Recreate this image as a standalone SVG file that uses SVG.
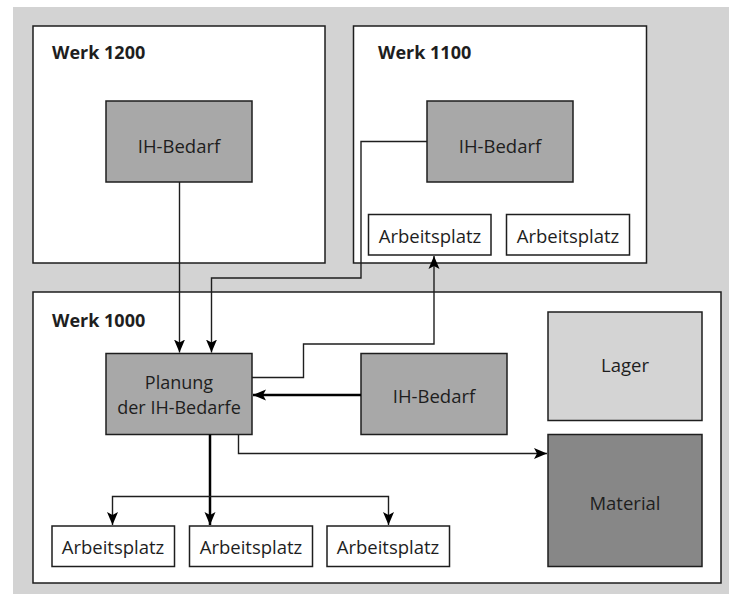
<svg xmlns="http://www.w3.org/2000/svg" width="729" height="594" viewBox="0 0 729 594">
<defs>
<style>
.box{stroke:#1e1e1e;stroke-width:1.5}
.werk{fill:#fff}
.ih{fill:#a8a8a8}
.ap{fill:#fff}
.lager{fill:#d4d4d4}
.mat{fill:#878787}
text{font-family:"Open Sans","Noto Sans","Liberation Sans",sans-serif;font-size:18.5px;fill:#1e1e1e;text-anchor:middle}
.title{font-weight:bold;text-anchor:start;font-size:18px}
.two{font-size:18px}
.c{fill:none;stroke:#1e1e1e;stroke-width:1.4}
.t{fill:none;stroke:#000;stroke-width:2.5}
</style>
<marker id="arr" markerUnits="userSpaceOnUse" markerWidth="14" markerHeight="14" viewBox="0 0 14 14" refX="13" refY="7" orient="auto">
<path d="M0,1.5 L13,7 L0,12.5 L3,7 z" fill="#000"/>
</marker>
</defs>
<rect x="13" y="7" width="716" height="587" fill="#d3d3d3"/>
<g id="werk1200">
<rect class="box werk" x="33" y="26" width="292" height="237"/>
<text class="title" x="52" y="59">Werk 1200</text>
</g>
<g id="werk1100">
<rect class="box werk" x="353.5" y="26" width="293" height="237"/>
<text class="title" x="378" y="59">Werk 1100</text>
</g>
<g id="werk1000">
<rect class="box werk" x="33" y="292" width="688" height="291"/>
<text class="title" x="52" y="327">Werk 1000</text>
</g>
<g id="ih1200">
<rect class="box ih" x="106" y="101" width="146" height="81"/>
<text x="179" y="152.5">IH-Bedarf</text>
</g>
<g id="ih1100">
<rect class="box ih" x="427" y="101" width="146" height="81"/>
<text x="500" y="152.5">IH-Bedarf</text>
</g>
<g id="ap1100a">
<rect class="box ap" x="368.5" y="214.5" width="122.5" height="40.5"/>
<text x="430" y="242.5">Arbeitsplatz</text>
</g>
<g id="ap1100b">
<rect class="box ap" x="506.5" y="214.5" width="123" height="40.5"/>
<text x="568" y="242.5">Arbeitsplatz</text>
</g>
<g id="planung">
<rect class="box ih" x="106" y="353.5" width="146" height="81"/>
<text class="two" x="179" y="388.5">Planung</text>
<text class="two" x="179" y="413.5">der IH-Bedarfe</text>
</g>
<g id="ih1000">
<rect class="box ih" x="361" y="353.5" width="146" height="81"/>
<text x="434" y="402.5">IH-Bedarf</text>
</g>
<g id="lager">
<rect class="box lager" x="548" y="312" width="154" height="108.5"/>
<text x="625" y="371.5">Lager</text>
</g>
<g id="material">
<rect class="box mat" x="548" y="434.5" width="154" height="132"/>
<text x="625" y="510">Material</text>
</g>
<g id="ap1000a">
<rect class="box ap" x="52" y="526" width="122.5" height="40.5"/>
<text x="113" y="554">Arbeitsplatz</text>
</g>
<g id="ap1000b">
<rect class="box ap" x="189.5" y="526" width="123" height="40.5"/>
<text x="251" y="554">Arbeitsplatz</text>
</g>
<g id="ap1000c">
<rect class="box ap" x="327" y="526" width="122.5" height="40.5"/>
<text x="388" y="554">Arbeitsplatz</text>
</g>
<g id="connectors">
<path class="c" d="M179.5,182 V352.5" marker-end="url(#arr)"/>
<path class="c" d="M427,141.5 H361 V278 H211.5 V352.5" marker-end="url(#arr)"/>
<path class="c" d="M252,377.5 H303.5 V344 H434 V256" marker-end="url(#arr)"/>
<path class="t" d="M361,395 H253" marker-end="url(#arr)"/>
<path class="t" d="M210,434.5 V525" marker-end="url(#arr)"/>
<path class="c" d="M210,496.5 H388.5 V525" marker-end="url(#arr)"/>
<path class="c" d="M210,496.5 H112.5 V525" marker-end="url(#arr)"/>
<path class="c" d="M238.5,434.5 V453.5 H547" marker-end="url(#arr)"/>
</g>
</svg>
